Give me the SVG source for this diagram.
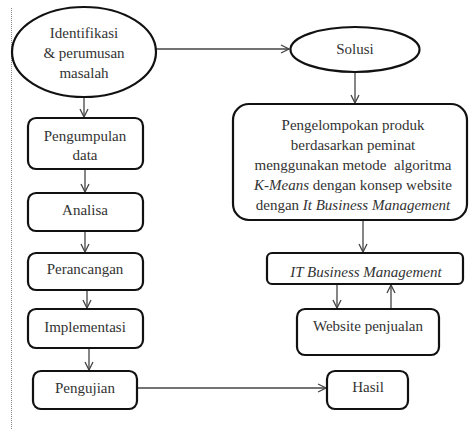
<svg xmlns="http://www.w3.org/2000/svg" width="470" height="430" viewBox="0 0 470 430">
<style>
.n{fill:#fff;stroke:#111;stroke-width:2.2}
.t{font-family:'Liberation Serif','Times New Roman','DejaVu Serif',serif;font-size:15px;fill:#333;text-anchor:middle;dominant-baseline:central}
.i{font-style:italic}
.c{fill:none;stroke:#444;stroke-width:1.3}
</style>
<defs>
<marker id="a" viewBox="0 0 10 10" refX="9" refY="5" markerWidth="10" markerHeight="10" markerUnits="userSpaceOnUse" orient="auto">
<path d="M1,1 L9,5 L1,9" fill="none" stroke="#444" stroke-width="1.3"/>
</marker>
</defs>
<rect width="470" height="430" fill="#fff"/>
<line x1="11.5" y1="8" x2="11.5" y2="430" stroke="#888" stroke-width="1" stroke-dasharray="1,1"/>
<g id="connectors">
<line class="c" x1="84" y1="98" x2="84" y2="117" marker-end="url(#a)"/>
<line class="c" x1="156" y1="49" x2="289" y2="49" marker-end="url(#a)"/>
<line class="c" x1="355" y1="72" x2="355" y2="103" marker-end="url(#a)"/>
<line class="c" x1="85" y1="169" x2="85" y2="192" marker-end="url(#a)"/>
<line class="c" x1="85" y1="231" x2="85" y2="252" marker-end="url(#a)"/>
<line class="c" x1="87" y1="290" x2="87" y2="308" marker-end="url(#a)"/>
<line class="c" x1="89" y1="348" x2="89" y2="370" marker-end="url(#a)"/>
<line class="c" x1="363" y1="220" x2="363" y2="252" marker-end="url(#a)"/>
<line class="c" x1="337" y1="285" x2="337" y2="308" marker-end="url(#a)"/>
<line class="c" x1="391" y1="309" x2="391" y2="285" marker-end="url(#a)"/>
<line class="c" x1="137" y1="388" x2="326" y2="388" marker-end="url(#a)"/>
</g>
<g id="identifikasi">
<ellipse class="n" cx="84" cy="52" rx="72" ry="45"/>
<text class="t" x="84" y="33">Identifikasi</text>
<text class="t" x="84" y="53">&amp; perumusan</text>
<text class="t" x="84" y="73">masalah</text>
</g>
<g id="solusi">
<ellipse class="n" cx="355" cy="49.5" rx="64.5" ry="22.5"/>
<text class="t" x="355" y="49">Solusi</text>
</g>
<g id="pengelompokan">
<rect class="n" x="233" y="104" width="234" height="116" rx="16"/>
<text class="t" x="353" y="125">Pengelompokan produk</text>
<text class="t" x="353" y="145">berdasarkan peminat</text>
<text class="t" x="353" y="165" xml:space="preserve">menggunakan metode  algoritma</text>
<text class="t" x="353" y="185"><tspan class="i">K-Means</tspan> dengan konsep website</text>
<text class="t" x="353" y="205">dengan <tspan class="i">It Business Management</tspan></text>
</g>
<g id="pengumpulan">
<rect class="n" x="28" y="118" width="115" height="51" rx="8"/>
<text class="t" x="85" y="136">Pengumpulan</text>
<text class="t" x="85" y="155">data</text>
</g>
<g id="analisa">
<rect class="n" x="28" y="193" width="115" height="38" rx="8"/>
<text class="t" x="85" y="210">Analisa</text>
</g>
<g id="perancangan">
<rect class="n" x="28" y="253" width="115" height="37" rx="8"/>
<text class="t" x="85" y="269">Perancangan</text>
</g>
<g id="implementasi">
<rect class="n" x="28" y="309" width="115" height="39" rx="8"/>
<text class="t" x="85" y="327">Implementasi</text>
</g>
<g id="pengujian">
<rect class="n" x="33" y="371" width="104" height="38" rx="8"/>
<text class="t" x="85" y="388">Pengujian</text>
</g>
<g id="itbm">
<rect class="n" x="267" y="253" width="196" height="31" rx="5"/>
<text class="t i" x="366" y="272">IT Business Management</text>
</g>
<g id="website">
<rect class="n" x="297" y="309" width="142" height="46" rx="8"/>
<text class="t" x="368" y="326">Website penjualan</text>
</g>
<g id="hasil">
<rect class="n" x="327" y="371" width="81" height="38" rx="8"/>
<text class="t" x="368" y="387">Hasil</text>
</g>
</svg>
